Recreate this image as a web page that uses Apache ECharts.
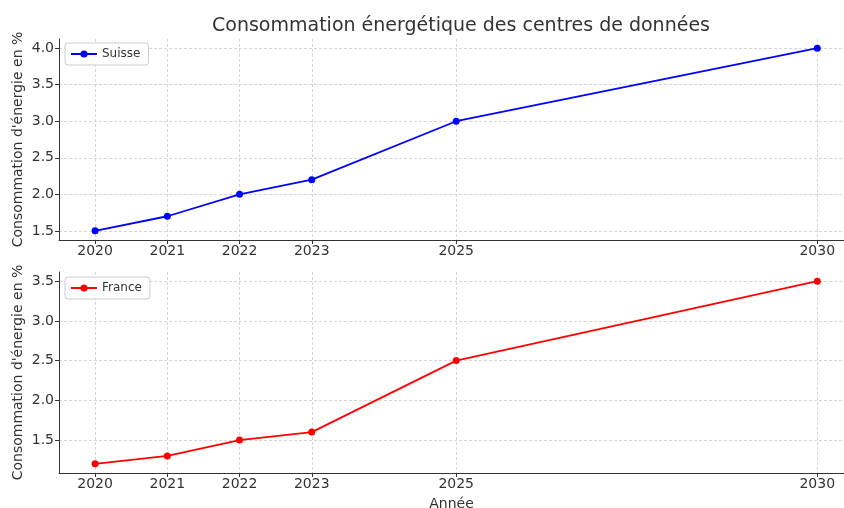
<!DOCTYPE html>
<html>
<head>
<meta charset="utf-8">
<script src="https://cdn.jsdelivr.net/npm/echarts@6/dist/echarts.min.js"></script>
<style>
  html, body { margin: 0; padding: 0; background: #fff; }
  #main { width: 844px; height: 508px; }
</style>
</head>
<body>
<div id="main"></div>
<script>
// données
var years = [2020, 2021, 2022, 2023, 2025, 2030];
var suisse = [1.5, 1.7, 2.0, 2.2, 3.0, 4.0];
var france = [1.2, 1.3, 1.5, 1.6, 2.5, 3.5];
var ticksSuisse = [1.5, 2.0, 2.5, 3.0, 3.5, 4.0];
var ticksFrance = [1.5, 2.0, 2.5, 3.0, 3.5];

var font = 'DejaVu Sans';
var myChart = echarts.init(document.getElementById('main'));

function pairs(xs, ys) {
  return xs.map(function (x, i) { return [x, ys[i]]; });
}

function xAxis(idx, name) {
  return {
    type: 'value', gridIndex: idx, min: 2019.5, max: 2030.37,
    name: name, nameLocation: 'middle', nameGap: 24,
    nameTextStyle: { fontFamily: font, fontSize: 14, color: '#333' },
    axisLine: { show: true, lineStyle: { color: '#333', width: 1 } },
    axisTick: { show: true, customValues: years, length: 4, lineStyle: { color: '#333' } },
    axisLabel: { customValues: years, fontFamily: font, fontSize: 14, color: '#333', margin: 4,
      formatter: function (v) { return String(v); } },
    splitLine: { show: true, lineStyle: { color: '#ccc', type: [3, 2], width: 0.8 } }
  };
}

function yAxis(idx, min, max, ticks) {
  return {
    type: 'value', gridIndex: idx, min: min, max: max,
    name: "Consommation d'énergie en %", nameLocation: 'middle', nameGap: 41,
    nameMoveOverlap: false,
    nameTextStyle: { fontFamily: font, fontSize: 14, color: '#333', verticalAlign: 'middle' },
    axisLine: { show: true, lineStyle: { color: '#333', width: 1 } },
    axisTick: { show: true, customValues: ticks, length: 4, lineStyle: { color: '#333' } },
    axisLabel: { customValues: ticks, fontFamily: font, fontSize: 14, color: '#333', margin: 5,
      formatter: function (v) { return v.toFixed(1); } },
    splitLine: { show: true, lineStyle: { color: '#ccc', type: [3, 2], width: 0.8 } }
  };
}

function legend(name, top) {
  return {
    data: [name], left: 65, top: top, orient: 'vertical',
    backgroundColor: '#fff', borderColor: '#ccc', borderWidth: 1, borderRadius: 3,
    padding: [5, 8, 5, 5], itemWidth: 26, itemHeight: 9, itemGap: 5,
    textStyle: { fontFamily: font, fontSize: 12, color: '#333' }
  };
}

var option = {
  animation: false,
  title: {
    text: 'Consommation énergétique des centres de données',
    left: 456, top: 12, textAlign: 'center',
    textStyle: { fontFamily: font, fontSize: 19, fontWeight: 'normal', color: '#333' }
  },
  legend: [legend('Suisse', 43), legend('France', 277)],
  grid: [
    { left: 59, right: 0, top: 39, height: 201, outerBoundsMode: 'none' },
    { left: 59, right: 0, top: 272, height: 201, outerBoundsMode: 'none' }
  ],
  xAxis: [xAxis(0, ''), xAxis(1, 'Année')],
  yAxis: [yAxis(0, 1.375, 4.125, ticksSuisse), yAxis(1, 1.085, 3.615, ticksFrance)],
  series: [
    {
      name: 'Suisse', type: 'line', xAxisIndex: 0, yAxisIndex: 0,
      data: pairs(years, suisse),
      symbol: 'circle', symbolSize: 7,
      lineStyle: { color: '#0000ff', width: 1.8 },
      itemStyle: { color: '#0000ff' }
    },
    {
      name: 'France', type: 'line', xAxisIndex: 1, yAxisIndex: 1,
      data: pairs(years, france),
      symbol: 'circle', symbolSize: 7,
      lineStyle: { color: '#ff0000', width: 1.8 },
      itemStyle: { color: '#ff0000' }
    }
  ]
};

myChart.setOption(option);
</script>
</body>
</html>
